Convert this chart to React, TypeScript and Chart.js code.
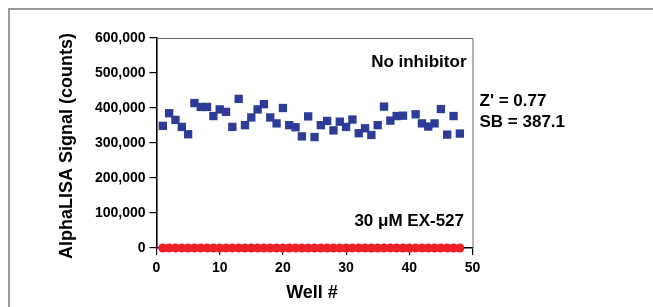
import React, { useEffect, useRef } from 'react';
import { Chart, registerables } from 'chart.js';

Chart.register(...registerables);

const wells = [
  1, 2, 3, 4, 5, 6, 7, 8, 9, 10, 11, 12, 13, 14, 15, 16, 17, 18, 19, 20, 21, 22, 23, 24,
  25, 26, 27, 28, 29, 30, 31, 32, 33, 34, 35, 36, 37, 38, 39, 40, 41, 42, 43, 44, 45, 46, 47, 48,
];

const noInhibitor: (number | null)[] = [
  349000, 385000, 366000, 346000, 325000, 414000, 403000, 403000, 377000, 396000, 389000, 346000,
  426000, 351000, 373000, 396000, 411000, 373000, 356000, 400000, 351000, 345000, 319000, 376000,
  317000, 351000, 363000, 336000, 361000, 346000, 367000, 328000, 342000, 323000, 351000, 404000,
  364000, 377000, 378000, null, 382000, 356000, 347000, 356000, 397000, 324000, 377000, 327000,
];

const ex527: number[] = [
  0, 0, 0, 0, 0, 0, 0, 0, 0, 0, 0, 0, 0, 0, 0, 0, 0, 0, 0, 0, 0, 0, 0, 0,
  0, 0, 0, 0, 0, 0, 0, 0, 0, 0, 0, 0, 0, 0, 0, 0, 0, 0, 0, 0, 0, 0, 0, 0,
];

const xTicks = [0, 10, 20, 30, 40, 50];
const yTicks = [0, 100000, 200000, 300000, 400000, 500000, 600000];

const xTitle = 'Well #';
const yTitle = 'AlphaLISA Signal (counts)';
const topLabel = 'No inhibitor';
const bottomLabel = '30 μM EX-527';
const statLines = ["Z' = 0.77", 'SB = 387.1'];

const FONT = '"Liberation Sans", Arial, Helvetica, sans-serif';

const annotationPlugin = {
  id: 'annotations',
  beforeDatasetsDraw(chart: any) {
    const { ctx } = chart;
    const { left, right, top, bottom } = chart.chartArea;
    ctx.save();
    ctx.strokeStyle = '#6a6a6a';
    ctx.lineWidth = 1;
    ctx.beginPath();
    ctx.moveTo(left, top + 0.5);
    ctx.lineTo(right + 0.5, top + 0.5);
    ctx.lineTo(right + 0.5, bottom);
    ctx.stroke();
    ctx.restore();
  },
  afterDraw(chart: any) {
    const { ctx } = chart;
    const { left, right, top, bottom } = chart.chartArea;
    ctx.save();
    ctx.fillStyle = '#000';
    ctx.font = `bold 17px ${FONT}`;
    ctx.textBaseline = 'middle';
    ctx.textAlign = 'right';
    ctx.fillText(topLabel, right - 6, top + 24.5);
    ctx.fillText(bottomLabel, right - 8.5, bottom - 27);
    ctx.textAlign = 'left';
    ctx.fillText(statLines[0], right + 7, top + 63.7);
    ctx.fillText(statLines[1], right + 7, top + 84);
    ctx.textAlign = 'center';
    ctx.font = `bold 18px ${FONT}`;
    ctx.fillText(xTitle, (left + right) / 2 - 2.5, bottom + 45);
    ctx.translate(left - 89.5, (top + bottom) / 2 + 3);
    ctx.rotate(-Math.PI / 2);
    ctx.font = `bold 18px ${FONT}`;
    ctx.fillText(yTitle, 0, 0);
    ctx.restore();
  },
};

export default function App() {
  const canvasRef = useRef<HTMLCanvasElement | null>(null);

  useEffect(() => {
    if (!canvasRef.current) return;
    const blue = wells
      .map((w, i) => ({ x: w, y: noInhibitor[i] }))
      .filter((p) => p.y !== null);
    const red = wells.map((w, i) => ({ x: w, y: ex527[i] }));

    const chart = new Chart(canvasRef.current, {
      type: 'scatter',
      data: {
        datasets: [
          {
            label: 'No inhibitor',
            data: blue as any,
            pointStyle: 'rect',
            pointRadius: 5.9,
            backgroundColor: '#2c3c97',
            borderColor: '#2c3c97',
            borderWidth: 0,
            clip: false as any,
          },
          {
            label: '30 μM EX-527',
            data: red,
            pointStyle: 'circle',
            pointRadius: 4.6,
            backgroundColor: '#ee1f26',
            borderColor: '#ee1f26',
            borderWidth: 0,
            clip: false as any,
          },
        ],
      },
      options: {
        animation: false,
        responsive: false,
        events: [],
        layout: { padding: { left: 0, right: 180.5, top: 28, bottom: 0 } },
        plugins: { legend: { display: false }, tooltip: { enabled: false } },
        scales: {
          x: {
            type: 'linear',
            min: 0,
            max: 50,
            afterFit: (s: any) => {
              s.height = 59;
            },
            afterBuildTicks: (s: any) => {
              s.ticks = xTicks.map((v) => ({ value: v }));
            },
            grid: { drawOnChartArea: false, drawTicks: true, tickLength: 7, color: '#000', lineWidth: 1.2 },
            border: { display: true, color: '#000', width: 1.6 },
            ticks: { padding: 5, color: '#000', font: { family: FONT, size: 14, weight: 'bold' } },
          },
          y: {
            type: 'linear',
            min: 0,
            max: 600000,
            afterFit: (s: any) => {
              s.width = 146.5;
            },
            afterBuildTicks: (s: any) => {
              s.ticks = yTicks.map((v) => ({ value: v }));
            },
            grid: { drawOnChartArea: false, drawTicks: true, tickLength: 7, color: '#000', lineWidth: 1.2 },
            border: { display: true, color: '#000', width: 1.6 },
            ticks: {
              padding: 4,
              color: '#000',
              font: { family: FONT, size: 14, weight: 'bold' },
              callback: (v: any) => Number(v).toLocaleString('en-US'),
            },
          },
        },
      },
      plugins: [annotationPlugin],
    });
    return () => chart.destroy();
  }, []);

  return (
    <div
      style={{
        position: 'fixed',
        left: 8,
        top: 8,
        width: 645,
        height: 299,
        borderLeft: '2px solid #9a9a9a',
        borderTop: '2px solid #9a9a9a',
        boxSizing: 'border-box',
        background: '#fff',
      }}
    >
      <canvas ref={canvasRef} width={643} height={297} style={{ display: 'block', width: 643, height: 297 }} />
    </div>
  );
}
